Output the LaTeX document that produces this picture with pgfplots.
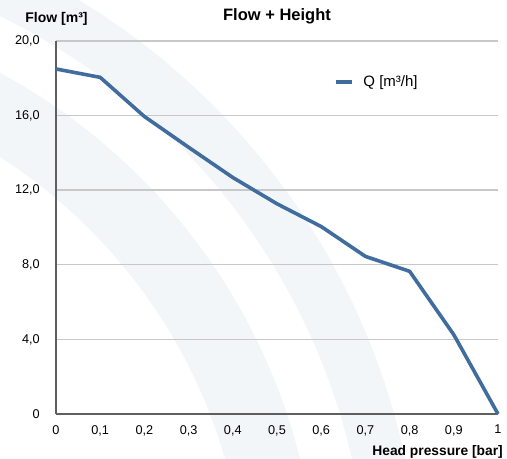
\documentclass[border=0pt]{standalone}
\usepackage{pgfplots}
\pgfplotsset{compat=1.18}
\usepackage{fontspec}
\setmainfont{Liberation Sans}
\definecolor{qblue}{RGB}{64,108,158}
\definecolor{arcbg}{RGB}{243,246,248}
\definecolor{gridc}{RGB}{200,200,200}
\definecolor{axisc}{RGB}{95,95,95}

\begin{document}
\begin{tikzpicture}[x=1bp,y=1bp]
\useasboundingbox (0,0) rectangle (507,459);
% pale arcs in the background
\begin{scope}
\clip (0,0) rectangle (507,459);
\fill[arcbg, even odd rule] (-287.5,-147) circle (605.6) (-287.5,-147) circle (533);
\fill[arcbg, even odd rule] (-287.5,-147) circle (708) (-287.5,-147) circle (656);
\end{scope}

\begin{axis}[
at={(56bp,45bp)}, anchor=south west,
scale only axis,
width=442bp, height=373bp,
xmin=0, xmax=1, ymin=0, ymax=20,
axis x line=bottom, axis y line=left,
x axis line style={-, draw=axisc, line width=1.5bp},
y axis line style={-, draw=axisc, line width=2.2bp},
major tick length=0pt,
xtick={0,0.1,0.2,0.3,0.4,0.5,0.6,0.7,0.8,0.9,1},
xticklabels={0,{0,1},{0,2},{0,3},{0,4},{0,5},{0,6},{0,7},{0,8},{0,9},1},
ytick={0,4,8,12,16,20},
yticklabels={0,{4,0},{8,0},{12,0},{16,0},{20,0}},
/pgf/number format/assume math mode=true,
ticklabel style={font=\fontsize{12.7bp}{14bp}\selectfont, inner sep=0pt},
xticklabel style={anchor=north, yshift=-11bp},
yticklabel style={anchor=east, xshift=-16bp},
ymajorgrids,
grid style={draw=gridc, line width=1.4bp},
clip=false,
legend style={at={(axis description cs:0.629,0.89)}, anchor=west,
  draw=none, fill=none, inner sep=0pt,
  font=\fontsize{15bp}{17bp}\selectfont,
  nodes={inner sep=2bp},
  column sep=8bp},
legend cell align=left,
legend image code/.code={\draw[#1, line width=3.2bp] (0bp,0bp) -- (16bp,0bp);},
]
\addplot[color=qblue, line width=3.6bp, line join=round]
coordinates {
(0,18.5)(0.1,18.05)(0.2,15.95)(0.3,14.3)(0.4,12.68)(0.5,11.27)(0.6,10.05)(0.7,8.45)(0.8,7.65)(0.9,4.25)(1,0)
};
\addlegendentry{Q [m³/h]}
\end{axis}

\node[font=\bfseries\fontsize{16.5bp}{18bp}\selectfont] at (277,443) {Flow + Height};
\node[font=\bfseries\fontsize{14bp}{16bp}\selectfont] at (56.5,440) {Flow [m³]};
\node[font=\bfseries\fontsize{13.8bp}{16bp}\selectfont, anchor=east, inner sep=0pt] at (503,7) {Head pressure [bar]};
\end{tikzpicture}
\end{document}
